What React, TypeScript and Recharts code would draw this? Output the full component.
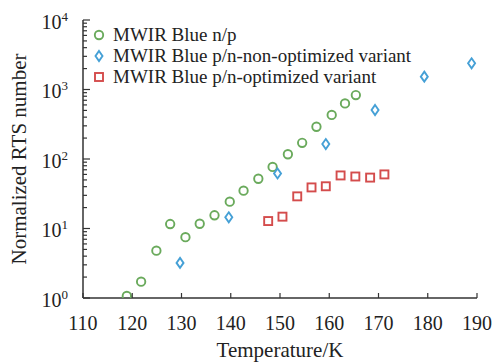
import React from "react";
import { ScatterChart, Scatter, XAxis, YAxis, Legend } from "recharts";

// MWIR Blue n/p
const npTemp = [118.9, 121.8, 124.9, 127.7, 130.8, 133.7, 136.7, 139.8, 142.6, 145.6, 148.5, 151.6, 154.5, 157.4, 160.5, 163.2, 165.4];
const npRts = [1.07, 1.72, 4.8, 11.6, 7.5, 11.7, 15.5, 24.3, 35, 52, 77, 117, 171, 291, 430, 631, 832];
// MWIR Blue p/n-non-optimized variant
const nonOptTemp = [129.7, 139.6, 149.5, 159.3, 169.3, 179.3, 188.9];
const nonOptRts = [3.2, 14.5, 62, 164, 507, 1530, 2380];
// MWIR Blue p/n-optimized variant
const optTemp = [147.6, 150.5, 153.5, 156.4, 159.3, 162.3, 165.3, 168.3, 171.2];
const optRts = [12.8, 14.8, 29, 39, 40.5, 58, 56, 54, 60];

const xTicks = [110, 120, 130, 140, 150, 160, 170, 180, 190];
const yDecades = [1, 10, 100, 1000, 10000];
const yMinorSteps = [2, 3, 4, 5, 6, 7, 8, 9];

const seriesNames = [
  "MWIR Blue n/p",
  "MWIR Blue p/n-non-optimized variant",
  "MWIR Blue p/n-optimized variant",
];

const GREEN = "#6aaa5c";
const BLUE = "#45a0d6";
const RED = "#d44c4c";
const AXIS = "#333";
const FONT = "'Times New Roman', 'Liberation Serif', serif";

const W = 493;
const H = 363;
const PLOT_LEFT = 83;
const PLOT_TOP = 20;
const PLOT_RIGHT = 477;
const PLOT_BOTTOM = 298;

const yTicks: number[] = [];
yDecades.forEach((d, i) => {
  yTicks.push(d);
  if (i < yDecades.length - 1) yMinorSteps.forEach((m) => yTicks.push(d * m));
});

const toPoints = (t: number[], v: number[]) => t.map((x, i) => ({ t: x, v: v[i] }));
const npData = toPoints(npTemp, npRts);
const nonOptData = toPoints(nonOptTemp, nonOptRts);
const optData = toPoints(optTemp, optRts);

const Ring = ({ cx, cy }: any) => (
  <circle cx={cx} cy={cy} r={4.2} fill="none" stroke={GREEN} strokeWidth={1.9} />
);
const Diamond = ({ cx, cy }: any) => (
  <polygon
    points={`${cx},${cy - 5} ${cx + 3.5},${cy} ${cx},${cy + 5} ${cx - 3.5},${cy}`}
    fill="none"
    stroke={BLUE}
    strokeWidth={1.9}
  />
);
const Square = ({ cx, cy }: any) => (
  <rect x={cx - 4} y={cy - 4} width={8} height={8} fill="none" stroke={RED} strokeWidth={1.9} />
);

const markers = [Ring, Diamond, Square];

const YTick = ({ y, payload }: any) => {
  const v = payload.value;
  const exp = Math.round(Math.log10(v));
  const major = Math.abs(Math.pow(10, exp) - v) < 1e-6;
  return (
    <g>
      <line x1={PLOT_LEFT} x2={PLOT_LEFT + (major ? 7 : 4)} y1={y} y2={y} stroke={AXIS} strokeWidth={1.2} />
      {major && (
        <text x={PLOT_LEFT - 15} y={y + 8.5} textAnchor="end" fontSize={20} fontFamily={FONT} fill="#222">
          10
          <tspan dy={-8} fontSize={13}>{exp}</tspan>
        </text>
      )}
    </g>
  );
};

const XTick = ({ x, payload }: any) => (
  <g>
    <line x1={x} x2={x} y1={PLOT_BOTTOM} y2={PLOT_BOTTOM - 5} stroke={AXIS} strokeWidth={1.2} />
    <text x={x} y={PLOT_BOTTOM + 32} textAnchor="middle" fontSize={20} fontFamily={FONT} fill="#222">
      {payload.value}
    </text>
  </g>
);

const LegendContent = () => (
  <div style={{ fontFamily: FONT, fontSize: 19, color: "#222" }}>
    {seriesNames.map((name, i) => {
      const M = markers[i];
      return (
        <div key={name} style={{ display: "flex", alignItems: "center", height: 21, whiteSpace: "nowrap" }}>
          <svg width={14} height={14} style={{ flex: "none" }}>
            <M cx={7} cy={7} />
          </svg>
          <span style={{ marginLeft: 7, lineHeight: "21px" }}>{name}</span>
        </div>
      );
    })}
  </div>
);

export default function App() {
  return (
    <div style={{ position: "fixed", left: 0, top: 0, background: "#fff" }}>
      <ScatterChart
        width={W}
        height={H}
        margin={{ top: PLOT_TOP, right: W - PLOT_RIGHT, bottom: 0, left: 0 }}
      >
        <XAxis
          xAxisId="top"
          orientation="top"
          type="number"
          dataKey="t"
          domain={[110, 190]}
          height={0}
          tick={false}
          tickLine={false}
          axisLine={{ stroke: "#555", strokeWidth: 1.5 }}
        />
        <YAxis
          yAxisId="right"
          orientation="right"
          type="number"
          dataKey="v"
          scale="log"
          domain={[1, 10000]}
          width={0}
          tick={false}
          tickLine={false}
          axisLine={{ stroke: "#555", strokeWidth: 1.5 }}
        />
        <XAxis
          type="number"
          dataKey="t"
          domain={[110, 190]}
          ticks={xTicks}
          interval={0}
          height={H - PLOT_BOTTOM}
          tickLine={false}
          tick={<XTick />}
          axisLine={{ stroke: AXIS, strokeWidth: 1.5 }}
          label={() => (
            <text x={(PLOT_LEFT + PLOT_RIGHT) / 2} y={357} textAnchor="middle" fontSize={21} fontFamily={FONT} fill="#222">
              Temperature/K
            </text>
          )}
        />
        <YAxis
          type="number"
          dataKey="v"
          scale="log"
          domain={[1, 10000]}
          allowDataOverflow
          ticks={yTicks}
          interval={0}
          width={PLOT_LEFT}
          tickLine={false}
          tick={<YTick />}
          axisLine={{ stroke: AXIS, strokeWidth: 1.5 }}
          label={() => (
            <text
              x={26}
              y={(PLOT_TOP + PLOT_BOTTOM) / 2}
              transform={`rotate(-90 26 ${(PLOT_TOP + PLOT_BOTTOM) / 2})`}
              textAnchor="middle"
              fontSize={21}
              fontFamily={FONT}
              fill="#222"
            >
              Normalized RTS number
            </text>
          )}
        />
        <Legend
          layout="horizontal"
          align="center"
          verticalAlign="middle"
          content={<LegendContent />}
          wrapperStyle={{ left: 92, top: 24, width: "auto" }}
        />
        <Scatter name={seriesNames[0]} data={npData} fill={GREEN} shape={<Ring />} isAnimationActive={false} />
        <Scatter name={seriesNames[1]} data={nonOptData} fill={BLUE} shape={<Diamond />} isAnimationActive={false} />
        <Scatter name={seriesNames[2]} data={optData} fill={RED} shape={<Square />} isAnimationActive={false} />
      </ScatterChart>
    </div>
  );
}
